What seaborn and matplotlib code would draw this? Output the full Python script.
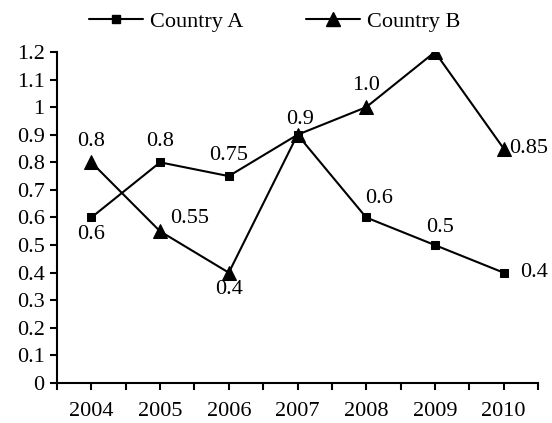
import matplotlib
matplotlib.use("Agg")
import matplotlib.pyplot as plt
import seaborn as sns
import pandas as pd
from matplotlib.lines import Line2D

years = ["2004", "2005", "2006", "2007", "2008", "2009", "2010"]
country_a = [0.6, 0.8, 0.75, 0.9, 0.6, 0.5, 0.4]
country_b = [0.8, 0.55, 0.4, 0.9, 1.0, 1.2, 0.85]
labels_a = ["0.6", "0.8", "0.75", "0.9", "0.6", "0.5", "0.4"]
labels_b = ["0.8", "0.55", "0.4", "", "1.0", "", "0.85"]
yticks = [0, 0.1, 0.2, 0.3, 0.4, 0.5, 0.6, 0.7, 0.8, 0.9, 1, 1.1, 1.2]
ytick_labels = ["0", "0.1", "0.2", "0.3", "0.4", "0.5", "0.6", "0.7", "0.8", "0.9", "1", "1.1", "1.2"]

sns.set_theme(style="white")
plt.rcParams["font.family"] = ["Liberation Serif", "DejaVu Serif"]
plt.rcParams["text.color"] = "black"

df = pd.DataFrame({
    "x": list(range(len(years))) * 2,
    "value": country_a + country_b,
    "series": ["Country A"] * len(years) + ["Country B"] * len(years),
})

fig = plt.figure(figsize=(5.52, 4.23), dpi=100)
ax = fig.add_axes([57 / 552, 1 - 383 / 423, (538 - 57) / 552, (383 - 52) / 423])

sq_ms, tri_ms = 5.8, 9.8
sns.lineplot(data=df, x="x", y="value", hue="series", style="series",
             markers={"Country A": "s", "Country B": "^"}, dashes=False,
             palette={"Country A": "black", "Country B": "black"},
             linewidth=1.5, ax=ax, legend=False,
             markeredgecolor="black")
for line in ax.get_lines():
    if line.get_marker() == "s":
        line.set_markersize(sq_ms)
    elif line.get_marker() == "^":
        line.set_markersize(tri_ms)

ax.set_xlim(-0.5, 6.5)
ax.set_ylim(0, 1.2)
ax.set_xticks(range(len(years)))
ax.set_xticklabels(years)
ax.set_xticks([i - 0.5 for i in range(len(years) + 1)], minor=True)
ax.set_yticks(yticks)
ax.set_yticklabels(ytick_labels)
fs = 16
ax.tick_params(axis="both", which="both", direction="out", length=5, width=1.5,
               colors="black", labelsize=fs, bottom=True, left=True)
ax.tick_params(axis="x", pad=9)
ax.tick_params(axis="y", pad=4)
ax.set_xlabel("")
ax.set_ylabel("")
for s in ["top", "right"]:
    ax.spines[s].set_visible(False)
for s in ["left", "bottom"]:
    ax.spines[s].set_color("black")
    ax.spines[s].set_linewidth(1.5)
ax.grid(False)

# offsets in points (dx, dy), ha
off_a = [(0, -12, "center"), (0, 15, "center"), (0, 15, "center"), (2, 11, "center"),
         (9, 14, "center"), (4, 13, "center"), (12, 0, "left")]
off_b = [(0, 15, "center"), (7, 9.5, "left"), (0, -12, "center"), (0, 0, "center"),
         (0, 15.5, "center"), (0, 0, "center"), (4, 0, "left")]
for i, (v, t) in enumerate(zip(country_a, labels_a)):
    if t:
        dx, dy, ha = off_a[i]
        ax.annotate(t, (i, v), xytext=(dx, dy), textcoords="offset points",
                    ha=ha, va="center", fontsize=fs, color="black")
for i, (v, t) in enumerate(zip(country_b, labels_b)):
    if t:
        dx, dy, ha = off_b[i]
        ax.annotate(t, (i, v), xytext=(dx, dy), textcoords="offset points",
                    ha=ha, va="center", fontsize=fs, color="black")

handles = [Line2D([], [], color="black", lw=1.5, marker="s", markersize=sq_ms),
           Line2D([], [], color="black", lw=1.5, marker="^", markersize=tri_ms)]
fig.legend(handles, ["Country A", "Country B"], loc="center",
           bbox_to_anchor=(274.5 / 552, 1 - 22 / 423), ncol=2, frameon=False,
           fontsize=fs, handlelength=2.43, handletextpad=0.32, columnspacing=2.8,
           labelcolor="black", borderaxespad=0, borderpad=0)

fig.savefig("out.png", dpi=100)
